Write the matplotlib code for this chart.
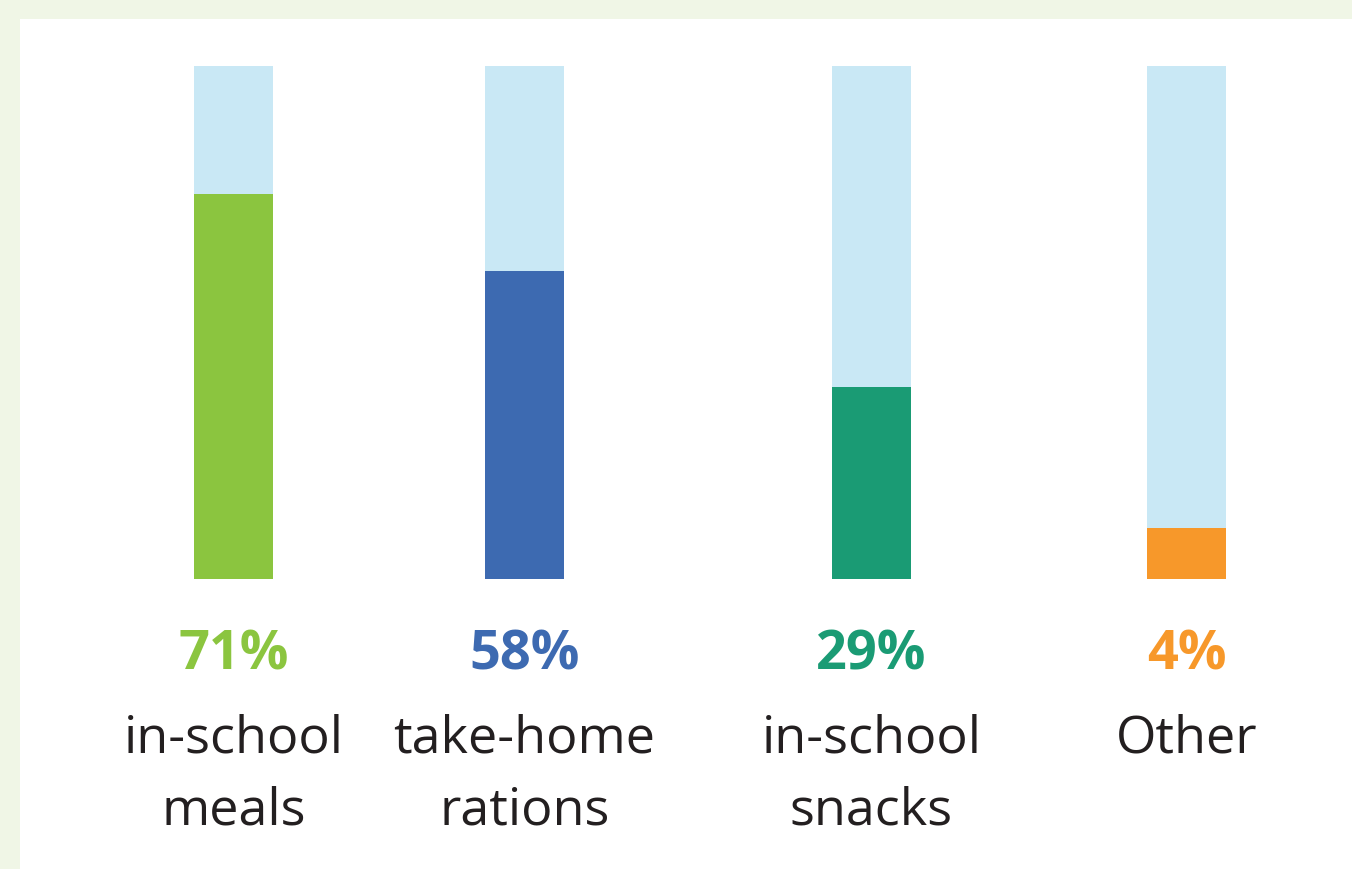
import matplotlib.pyplot as plt
from matplotlib.patches import Rectangle

categories = ['in-school\nmeals', 'take-home\nrations', 'in-school\nsnacks', 'Other']
pct_labels = ['71%', '58%', '29%', '4%']
# filled share of each bar as drawn in the picture (not to scale with the labels)
fill_height = [75, 60, 37.5, 10]
colors = ['#8BC53F', '#3D6AB1', '#1A9B74', '#F7982A']
track_color = '#C9E8F5'

W, H = 1352, 870
fig = plt.figure(figsize=(W / 100, H / 100), dpi=100)
fig.patch.set_facecolor('#F0F6E6')

# white panel
fig.patches.append(Rectangle((20 / W, 0), 1 - 20 / W, 1 - 20 / H,
                             transform=fig.transFigure, facecolor='white',
                             edgecolor='none', zorder=-1))

# bars axes: x in pixels, y in percent of bar height
ax = fig.add_axes([0, 1 - 580 / H, 1, 513 / H])
ax.set_xlim(0, W)
ax.set_ylim(0, 100)
ax.axis('off')

xs = [233.5, 524.5, 871.5, 1186.5]
ax.bar(xs, [100] * 4, width=79, color=track_color)
ax.bar(xs, fill_height, width=79, color=colors)

for x, p, c, lab in zip(xs, pct_labels, colors, categories):
    fig.text(x / W, 1 - 670 / H, p, color=c, fontsize=39, fontweight='bold',
             family='Open Sans', ha='center', va='baseline')
    for i, line in enumerate(lab.split('\n')):
        fig.text(x / W, 1 - (753 + 72 * i) / H, line, color='#231F20',
                 fontsize=37.5, family='Open Sans', ha='center', va='baseline')

fig.savefig('out.png', dpi=100, facecolor=fig.get_facecolor())
